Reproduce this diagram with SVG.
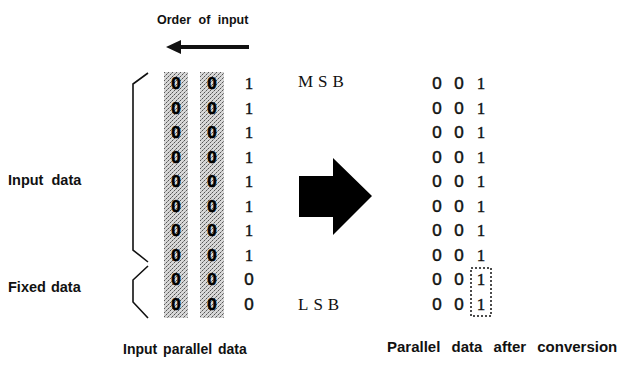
<svg xmlns="http://www.w3.org/2000/svg" width="643" height="376" viewBox="0 0 643 376">
<defs>
<pattern id="stip" width="4" height="4" patternUnits="userSpaceOnUse">
<rect width="4" height="4" fill="#d8d8d8"/>
<rect x="0" y="0" width="1" height="1" fill="#555"/>
<rect x="2" y="2" width="1" height="1" fill="#555"/>
<rect x="3" y="1" width="1" height="1" fill="#888"/>
<rect x="1" y="3" width="1" height="1" fill="#999"/>
</pattern>
</defs>
<style>
.lbl{font-family:"Liberation Sans",Arial,sans-serif;font-size:14.5px;font-weight:bold;fill:#111}
.z{font-family:"Liberation Sans",Arial,sans-serif;font-size:17px;fill:#111;text-anchor:middle;stroke:#111;stroke-width:0.5}
.zb{font-family:"Liberation Sans",Arial,sans-serif;font-size:17px;font-weight:bold;fill:#000;text-anchor:middle;stroke:#000;stroke-width:0.6}
.o{font-family:"Liberation Serif","Times New Roman",serif;font-size:17px;fill:#111;text-anchor:middle;stroke:#111;stroke-width:0.4}
.sb{font-family:"Liberation Serif","Times New Roman",serif;font-size:17px;fill:#111;letter-spacing:5px}
.br{fill:none;stroke:#111;stroke-width:1.6}
</style>
<g id="title">
<text class="lbl" x="157" y="24" style="font-size:12.5px;word-spacing:4px">Order of input</text>
</g>
<g id="order-arrow">
<line x1="178" y1="47" x2="249" y2="47" stroke="#111" stroke-width="4"/>
<polygon points="166,47 181,40 181,54" fill="#111"/>
</g>
<g id="input-columns">
<rect x="164" y="72" width="24" height="246" fill="url(#stip)"/>
<rect x="200" y="72" width="24" height="246" fill="url(#stip)"/>
<g id="in-rows">
<text class="zb" x="176" y="89">0</text><text class="zb" x="212" y="89">0</text><text class="o" x="249" y="89">1</text>
<text class="zb" x="176" y="113.5">0</text><text class="zb" x="212" y="113.5">0</text><text class="o" x="249" y="113.5">1</text>
<text class="zb" x="176" y="138">0</text><text class="zb" x="212" y="138">0</text><text class="o" x="249" y="138">1</text>
<text class="zb" x="176" y="162.5">0</text><text class="zb" x="212" y="162.5">0</text><text class="o" x="249" y="162.5">1</text>
<text class="zb" x="176" y="187">0</text><text class="zb" x="212" y="187">0</text><text class="o" x="249" y="187">1</text>
<text class="zb" x="176" y="211.5">0</text><text class="zb" x="212" y="211.5">0</text><text class="o" x="249" y="211.5">1</text>
<text class="zb" x="176" y="236">0</text><text class="zb" x="212" y="236">0</text><text class="o" x="249" y="236">1</text>
<text class="zb" x="176" y="260.5">0</text><text class="zb" x="212" y="260.5">0</text><text class="o" x="249" y="260.5">1</text>
<text class="zb" x="176" y="285">0</text><text class="zb" x="212" y="285">0</text><text class="z" x="249" y="285">0</text>
<text class="zb" x="176" y="309.5">0</text><text class="zb" x="212" y="309.5">0</text><text class="z" x="249" y="309.5">0</text>
</g>
</g>
<g id="input-data">
<path class="br" d="M148,73 L133,84 L133,250 L148,262"/>
<text class="lbl" x="8" y="185" style="word-spacing:4px">Input data</text>
</g>
<g id="fixed-data">
<path class="br" d="M148,266 L133,280 L133,302 L148,318"/>
<text class="lbl" x="8" y="292" style="word-spacing:1px">Fixed data</text>
</g>
<g id="convert-arrow">
<polygon points="299,176 333,176 333,158 372,196 333,235 333,217 299,217" fill="#000"/>
</g>
<g id="output-columns">
<text class="sb" x="298" y="87">MSB</text>
<text class="sb" x="298" y="310">LSB</text>
<g id="out-rows">
<text class="z" x="437" y="89">0</text><text class="z" x="459" y="89">0</text><text class="o" x="481" y="89">1</text>
<text class="z" x="437" y="113.5">0</text><text class="z" x="459" y="113.5">0</text><text class="o" x="481" y="113.5">1</text>
<text class="z" x="437" y="138">0</text><text class="z" x="459" y="138">0</text><text class="o" x="481" y="138">1</text>
<text class="z" x="437" y="162.5">0</text><text class="z" x="459" y="162.5">0</text><text class="o" x="481" y="162.5">1</text>
<text class="z" x="437" y="187">0</text><text class="z" x="459" y="187">0</text><text class="o" x="481" y="187">1</text>
<text class="z" x="437" y="211.5">0</text><text class="z" x="459" y="211.5">0</text><text class="o" x="481" y="211.5">1</text>
<text class="z" x="437" y="236">0</text><text class="z" x="459" y="236">0</text><text class="o" x="481" y="236">1</text>
<text class="z" x="437" y="260.5">0</text><text class="z" x="459" y="260.5">0</text><text class="o" x="481" y="260.5">1</text>
<text class="z" x="437" y="285">0</text><text class="z" x="459" y="285">0</text><text class="o" x="481" y="285">1</text>
<text class="z" x="437" y="309.5">0</text><text class="z" x="459" y="309.5">0</text><text class="o" x="481" y="309.5">1</text>
</g>
<rect x="471" y="268" width="20" height="48" fill="none" stroke="#111" stroke-width="1.5" stroke-dasharray="2,2"/>
</g>
<g id="captions">
<text class="lbl" x="123" y="354" style="font-size:14px;word-spacing:2px">Input parallel data</text>
<text class="lbl" x="387" y="352" style="font-size:15px;word-spacing:7px">Parallel data after conversion</text>
</g>
</svg>
